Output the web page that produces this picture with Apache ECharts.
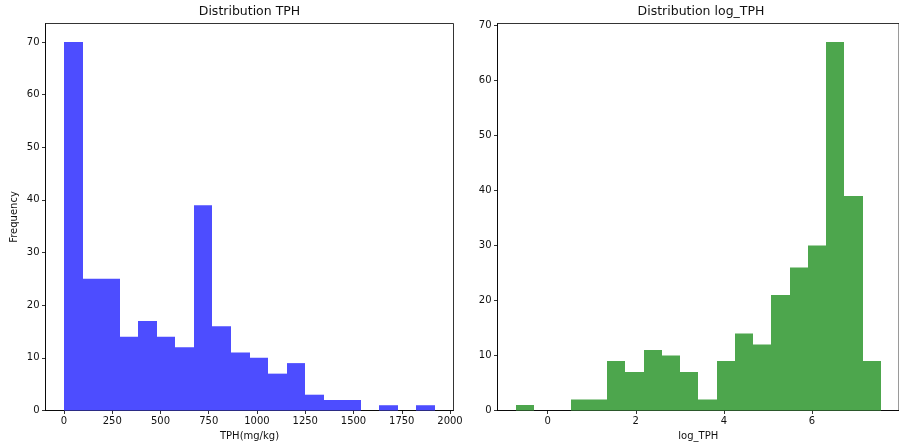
<!DOCTYPE html>
<html>
<head>
<meta charset="utf-8">
<script src="https://cdn.jsdelivr.net/npm/echarts@6/dist/echarts.min.js"></script>
<style>
  html, body { margin: 0; padding: 0; background: #fff; }
  #chart { width: 899px; height: 447px; }
</style>
</head>
<body>
<div id="chart"></div>
<script>
// Histogram counts (20 equal-width bins each)
const TPH_COUNTS = [70, 25, 25, 14, 17, 14, 12, 39, 16, 11, 10, 7, 9, 3, 2, 2, 0, 1, 0, 1];
const TPH_RANGE = [0.49, 1922];            // data min / max of TPH (mg/kg)
const LOG_COUNTS = [1, 0, 0, 2, 2, 9, 7, 11, 10, 7, 2, 9, 14, 12, 21, 26, 30, 67, 39, 9];
const LOG_RANGE = [-0.724, 7.561];         // data min / max of log_TPH

const TPH_TICKS = [0, 250, 500, 750, 1000, 1250, 1500, 1750, 2000];
const LOG_TICKS = [0, 2, 4, 6];
const FREQ_TICKS = [0, 10, 20, 30, 40, 50, 60, 70];

const TITLES = ['Distribution TPH', 'Distribution log_TPH'];
const X_NAMES = ['TPH(mg/kg)', 'log_TPH'];
const Y_NAME = 'Frequency';

const FONT = 'DejaVu Sans';
const TEXT = '#111111';

// turn counts + range into [left edge, right edge, count] rows
function bins(counts, range) {
  const w = (range[1] - range[0]) / counts.length;
  return counts.map((c, i) => [range[0] + i * w, range[0] + (i + 1) * w, c]);
}
// axis limits padded by 5% of the span on each side
function padded(range) {
  const s = range[1] - range[0];
  return [range[0] - 0.05 * s, range[1] + 0.05 * s];
}

// one rectangle per bin; edges snapped to whole pixels so neighbours meet without seams
function renderer(color) {
  return function (params, api) {
    const h = api.value(2);
    if (!h) return null;
    const a = api.coord([api.value(0), h]);
    const b = api.coord([api.value(1), 0]);
    const x0 = Math.round(a[0]), x1 = Math.round(b[0]);
    return {
      type: 'rect',
      shape: { x: x0, y: a[1], width: x1 - x0, height: b[1] - a[1] },
      style: { fill: color }
    };
  };
}

const grids = [
  { left: 45.5, top: 23.5, width: 408, height: 387 },
  { left: 497.5, top: 23.5, width: 407, height: 387 }
];

const tphLim = padded(TPH_RANGE);
const logLim = padded(LOG_RANGE);
const xLims = [tphLim, logLim];
const xTicks = [TPH_TICKS, LOG_TICKS];
const yMax = [Math.max(...TPH_COUNTS) * 1.05, Math.max(...LOG_COUNTS) * 1.05];

const axisText = { fontFamily: FONT, fontSize: 10, color: TEXT };
const plain = v => String(v);

const option = {
  backgroundColor: '#ffffff',
  animation: false,
  title: grids.map((g, i) => ({
    text: TITLES[i],
    left: g.left + g.width / 2,
    top: 5,
    padding: 0,
    textAlign: 'center',
    textStyle: { fontFamily: FONT, fontSize: 12.5, fontWeight: 'normal', color: TEXT }
  })),
  grid: grids.map(g => Object.assign({ show: true, borderColor: '#000', borderWidth: 0.8, backgroundColor: 'transparent' }, g)),
  xAxis: grids.map((g, i) => ({
    type: 'value',
    gridIndex: i,
    min: xLims[i][0],
    max: xLims[i][1],
    name: X_NAMES[i],
    nameLocation: 'middle',
    nameGap: 20,
    nameTextStyle: axisText,
    axisLine: { show: true, onZero: false, lineStyle: { color: '#000', width: 0.8 } },
    axisTick: { show: true, length: 3.5, lineStyle: { color: '#000', width: 0.8 }, customValues: xTicks[i] },
    axisLabel: Object.assign({ margin: 6, customValues: xTicks[i], formatter: plain }, axisText),
    splitLine: { show: false }
  })),
  yAxis: grids.map((g, i) => ({
    type: 'value',
    gridIndex: i,
    min: 0,
    max: yMax[i],
    name: i === 0 ? Y_NAME : '',
    nameLocation: 'middle',
    nameGap: 26,
    nameTextStyle: axisText,
    axisLine: { show: true, onZero: false, lineStyle: { color: '#000', width: 0.8 } },
    axisTick: { show: true, length: 3.5, lineStyle: { color: '#000', width: 0.8 }, customValues: FREQ_TICKS },
    axisLabel: Object.assign({ margin: 6, customValues: FREQ_TICKS, formatter: plain }, axisText),
    splitLine: { show: false }
  })),
  series: [
    {
      type: 'custom',
      xAxisIndex: 0, yAxisIndex: 0,
      renderItem: renderer('#4d4dff'),   // blue at 70% over white
      encode: { x: [0, 1], y: 2 },
      data: bins(TPH_COUNTS, TPH_RANGE)
    },
    {
      type: 'custom',
      xAxisIndex: 1, yAxisIndex: 1,
      renderItem: renderer('#4da64d'),   // green at 70% over white
      encode: { x: [0, 1], y: 2 },
      data: bins(LOG_COUNTS, LOG_RANGE)
    }
  ]
};

const chart = echarts.init(document.getElementById('chart'), null, { renderer: 'canvas' });
chart.setOption(option);
</script>
</body>
</html>
